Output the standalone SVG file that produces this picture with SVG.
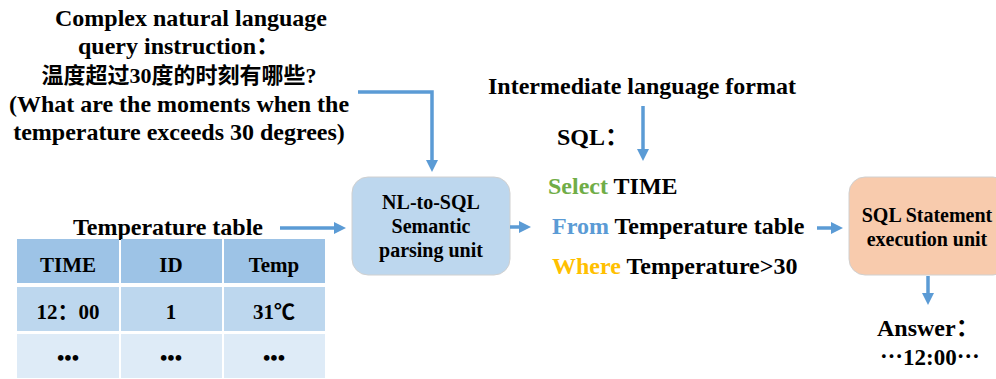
<svg xmlns="http://www.w3.org/2000/svg" width="996" height="379" viewBox="0 0 996 379">
<defs>
<marker id="ah" markerWidth="12" markerHeight="12" refX="6" refY="6" orient="auto" markerUnits="userSpaceOnUse" viewBox="0 0 12 12">
<path d="M0,0 L12,6 L0,12 z" fill="#5B9BD5"/>
</marker>
<style>
text{font-family:"Liberation Serif","Noto Sans CJK SC",serif;font-weight:bold;font-size:24px;fill:#000}
.c{text-anchor:middle}
.t{font-size:21px}
.box{font-size:20px}
.conn{stroke:#5B9BD5;stroke-width:3.5;fill:none}
</style>
</defs>
<rect width="996" height="379" fill="#fff"/>
<g id="query">
<text class="c" x="191" y="26">Complex natural language</text>
<text class="c" x="179" y="54">query instruction：</text>
<text class="c" x="179" y="83" style="font-size:22px">温度超过30度的时刻有哪些?</text>
<text class="c" x="179" y="112">(What are the moments when the</text>
<text class="c" x="179" y="140">temperature exceeds 30 degrees)</text>
</g>
<g id="temp-label">
<text class="c" x="168" y="235">Temperature table</text>
</g>
<g id="table">
<rect x="17" y="239" width="102" height="44" fill="#9DC3E6"/>
<rect x="121" y="239" width="101" height="44" fill="#9DC3E6"/>
<rect x="224" y="239" width="101" height="44" fill="#9DC3E6"/>
<rect x="17" y="287" width="102" height="44" fill="#BDD7EE"/>
<rect x="121" y="287" width="101" height="44" fill="#BDD7EE"/>
<rect x="224" y="287" width="101" height="44" fill="#BDD7EE"/>
<rect x="17" y="334" width="102" height="44" fill="#DEEBF7"/>
<rect x="121" y="334" width="101" height="44" fill="#DEEBF7"/>
<rect x="224" y="334" width="101" height="44" fill="#DEEBF7"/>
<text class="c t" x="68" y="272">TIME</text>
<text class="c t" x="171" y="272">ID</text>
<text class="c t" x="274" y="272">Temp</text>
<text class="c t" x="68" y="319">12：00</text>
<text class="c t" x="171" y="319">1</text>
<text class="c t" x="274" y="319">31℃</text>
<text class="c t" x="68" y="365">•••</text>
<text class="c t" x="171" y="365">•••</text>
<text class="c t" x="274" y="365">•••</text>
</g>
<g id="nl2sql">
<rect x="352" y="177" width="158" height="98" rx="16" fill="#BDD7EE" stroke="#D0D0D0" stroke-width="1"/>
<text class="c box" x="431" y="209">NL-to-SQL</text>
<text class="c box" x="431" y="233">Semantic</text>
<text class="c box" x="431" y="257">parsing unit</text>
</g>
<g id="intermediate">
<text x="488" y="94">Intermediate language format</text>
<text x="557" y="145">SQL：</text>
</g>
<g id="sql">
<text x="548" y="194"><tspan fill="#70AD47">Select</tspan> TIME</text>
<text x="552" y="234"><tspan fill="#5B9BD5">From</tspan> Temperature table</text>
<text x="552" y="274"><tspan fill="#FFC000">Where</tspan> Temperature&gt;30</text>
</g>
<g id="exec">
<rect x="849" y="177" width="160" height="98" rx="16" fill="#F8CBAD" stroke="#D0D0D0" stroke-width="1"/>
<text class="c box" x="927" y="222">SQL Statement</text>
<text class="c box" x="927" y="246">execution unit</text>
</g>
<g id="answer">
<text x="877" y="336">Answer：</text>
<text x="880" y="365" style="font-size:23px">⋯12:00⋯</text>
</g>
<g id="connectors">
<path class="conn" d="M358,92 H432 V166" marker-end="url(#ah)"/>
<path class="conn" d="M280,228 H340" marker-end="url(#ah)"/>
<path class="conn" d="M510,227 H525" marker-end="url(#ah)"/>
<path class="conn" d="M643,106 V155" marker-end="url(#ah)"/>
<path class="conn" d="M817,228 H837" marker-end="url(#ah)"/>
<path class="conn" d="M928,276 V299" marker-end="url(#ah)"/>
</g>
</svg>
